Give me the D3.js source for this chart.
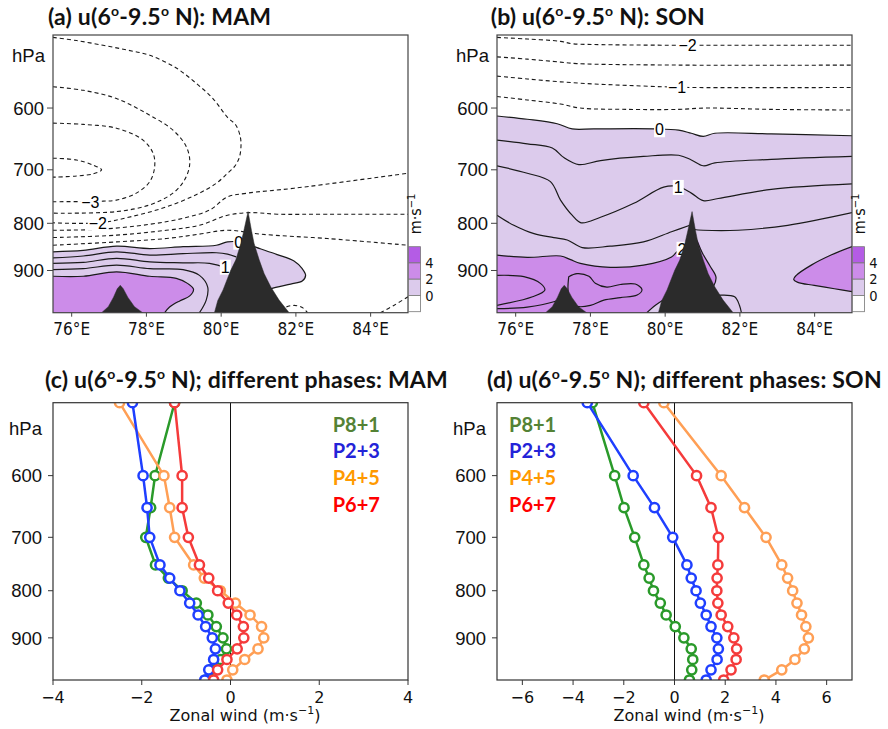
<!DOCTYPE html>
<html><head><meta charset="utf-8">
<script src="https://cdn.jsdelivr.net/npm/d3@7"></script>
<style>body{margin:0;background:#fff}svg{display:block}</style>
</head><body>
<svg id="c" width="888" height="729"></svg>
<script>
// ---------------- DATA ----------------
// Profile panels (c),(d): pressure levels (hPa)
const levels = [500,600,650,700,750,775,800,825,850,875,900,925,950,975,1000];
const phaseNames = ["P8+1","P2+3","P4+5","P6+7"];
// MAM zonal wind (m/s)
const mamP81 = [-1.26,-1.70,-1.80,-1.91,-1.69,-1.40,-1.09,-0.77,-0.51,-0.32,-0.17,-0.09,-0.22,-0.45,-0.56];
const mamP23 = [-2.21,-1.97,-1.88,-1.82,-1.59,-1.37,-1.14,-0.92,-0.73,-0.56,-0.41,-0.34,-0.38,-0.49,-0.58];
const mamP45 = [-2.50,-1.50,-1.37,-1.26,-0.83,-0.59,-0.23,0.11,0.44,0.70,0.75,0.62,0.32,0.05,-0.08];
const mamP67 = [-1.26,-1.09,-1.09,-0.95,-0.70,-0.49,-0.29,-0.05,0.14,0.29,0.30,0.15,-0.08,-0.29,-0.38];
// SON zonal wind (m/s)
const sonP81 = [-3.24,-2.36,-1.99,-1.57,-1.21,-1.00,-0.83,-0.56,-0.33,0.03,0.37,0.66,0.72,0.68,0.59];
const sonP23 = [-3.44,-1.63,-0.79,-0.07,0.49,0.66,0.85,1.02,1.25,1.44,1.67,1.73,1.68,1.44,1.25];
const sonP45 = [-0.42,1.84,2.76,3.61,4.23,4.46,4.66,4.83,5.01,5.18,5.28,5.12,4.75,4.23,3.54];
const sonP67 = [-1.21,0.87,1.44,1.73,1.71,1.68,1.67,1.71,1.84,2.10,2.34,2.45,2.43,2.23,1.94];
const mamTicksX = [-4,-2,0,2,4];
const sonTicksX = [-6,-4,-2,0,2,4,6];
const pTicks = [600,700,800,900];
const lonTicks = [76,78,80,82,84];
const cbLevels = [0,2,4];

// Terrain (lon, surface pressure)
const terrainBig = [[79.82,1000],[79.91,970],[80.05,945],[80.17,918],[80.26,899],[80.39,877],[80.53,841],[80.61,814],[80.72,777],[80.81,814],[80.88,841],[81.02,877],[81.15,907],[81.33,938],[81.55,969],[81.82,1000]];
const terrainSmall = [[76.8,1000],[76.98,985],[77.12,962],[77.22,942],[77.3,934],[77.38,942],[77.5,962],[77.68,985],[77.9,1000]];

// Panel (a) MAM contours (lon, hPa)
const A_m35 = [[75.5,680],[76.13,683],[76.58,692],[76.8,700],[76.58,707],[76.13,711],[75.5,713]];
const A_m3 = [[75.5,623],[76.31,625],[77.2,631],[77.91,650],[78.18,672],[78.22,695],[78.09,721],[77.73,742],[77.2,755],[76.84,757],[75.5,758]];
const A_m25 = [[75.5,569],[76.31,574],[77.2,586],[78.0,608],[78.71,634],[79.07,661],[79.16,689],[79.02,718],[78.71,742],[78.09,764],[77.2,777],[75.5,780]];
const A_m2 = [[75.5,503],[76.13,507],[76.84,513],[77.47,519],[78.09,526],[78.8,543],[79.33,564],[79.78,586],[80.17,614],[80.39,626],[80.51,644],[80.53,661],[80.48,680],[80.35,695],[80.17,706],[79.87,724],[79.33,745],[78.53,768],[77.64,786],[76.75,799],[75.5,799]];
const A_m15 = [[75.5,814],[76.75,812],[78.09,802],[78.98,790],[79.69,774],[80.17,749],[80.7,742],[81.95,733],[85,706]];
const A_m1 = [[75.5,829],[77.2,824],[78.53,814],[79.42,804],[80.17,784],[80.79,779],[81.5,782],[82.84,782],[85,782]];
const A_m05 = [[75.5,845],[77.2,838],[78.53,831],[79.42,822],[80.17,814],[81.06,822],[82.84,831],[85,845]];
const A_m05b = [[81.64,1000],[81.73,987],[81.95,982],[82.17,987],[82.31,1000]];
const A_m05c = [[84.26,1000],[84.62,982],[85,961]];
const A_0 = [[75.5,859],[76.31,856],[77.2,847],[78.09,852],[78.98,848],[79.87,845],[80.17,838],[80.48,838],[80.72,843],[80.88,848],[81.5,865],[81.95,879],[82.17,896],[82.26,911],[82.17,924],[81.86,931],[81.33,942],[81.1,953]];
const A_05 = [[75.5,872],[76.31,868],[77.2,859],[78.09,866],[78.98,863],[79.87,861],[80.17,864],[80.4,870]];
const A_1 = [[75.5,884],[76.31,882],[77.2,873],[78.09,881],[78.98,883],[79.69,884],[80.09,893],[80.3,905]];
const A_15 = [[75.5,898],[76.31,896],[77.2,888],[78.09,896],[78.98,898],[79.42,911],[79.64,938],[79.6,969],[79.42,1000]];
const A_2 = [[75.5,913],[76.31,913],[77.2,903],[78.09,913],[78.8,918],[79.11,930],[79.26,943],[79.16,959],[78.89,971],[78.62,986],[78.49,1000]];

// Panel (b) SON contours (lon, hPa)
const B_m2 = [[75.5,503],[76.31,505],[77.2,508],[77.51,511],[78.09,512],[80.36,513],[81.06,513],[85,513]];
const B_m15 = [[75.5,528],[76.31,531],[77.2,535],[77.64,537],[80.36,539],[85,539]];
const B_m1 = [[75.5,554],[76.31,558],[77.2,562],[78.09,565],[78.98,567],[79.96,569],[80.7,570],[85,570]];
const B_m05 = [[75.5,583],[76.31,588],[77.2,594],[77.73,600],[78.98,602],[80.36,602],[81.06,600],[82.84,602],[85,603]];
const B_0 = [[75.5,612],[76.31,617],[77.11,624],[77.51,632],[78.09,632],[79.69,632],[80.36,634],[80.7,639],[81.02,644],[81.33,639],[82.84,640],[85,643]];
const B_05 = [[75.5,650],[76.31,656],[76.98,663],[77.29,679],[77.69,691],[78.27,684],[79.42,677],[80.36,675],[80.7,683],[81.02,693],[81.33,688],[82.84,682],[85,677]];
const B_1 = [[75.5,693],[76.31,706],[76.93,721],[77.2,755],[77.51,784],[77.75,799],[78.27,788],[79.16,761],[79.96,731],[80.35,730],[80.7,742],[81.02,756],[81.42,752],[82.84,735],[85,725]];
const B_15a = [[75.5,784],[75.95,804],[76.49,821],[77.02,829],[77.38,834],[77.78,850],[78.53,847],[79.42,838],[80.17,817],[80.7,803]];
const B_15b = [[80.72,812],[81.02,814],[81.95,814],[83.28,804],[85,779]];
const B_15c = [[81.1,961],[81.5,957],[81.86,961],[81.99,982],[82.04,1000]];
const B_2a = [[75.5,866],[76.31,871],[77.2,868],[77.47,876],[77.73,884],[78.53,893],[79.42,888],[80.17,870],[80.35,856],[80.57,847]];
const B_2bulge = [[80.85,835],[81.0,862],[81.2,890],[81.36,915],[81.3,935],[81.2,945]];
const B_2right = [[85,848],[84.44,866],[83.91,888],[83.51,911],[83.44,920],[83.55,927],[83.99,934],[84.53,942],[85,949]];
const B_2patch = [[79.51,1000],[79.73,982],[79.96,968],[80.18,957]];
const B_25a = [[75.5,911],[76.22,914],[76.67,930],[76.78,945],[76.45,961],[75.5,982]];
const B_25b = [[77.42,914],[77.64,907],[77.96,913],[78.13,929],[78.44,938],[78.8,932],[79.2,931],[79.38,944],[79.25,957],[78.8,963],[78.36,969],[78.0,982],[77.64,984],[77.45,969],[77.4,942],[77.42,914]];
const B_25c = [[75.5,990],[76.31,986],[77.02,973],[77.15,968]];

// ---------------- STYLE ----------------
const cLight = "#dccbec", cMed = "#cc8ce9", cDark = "#b45ce5", cTerrain = "#2b2b2b";
const cbColors = ["#ffffff", cLight, cMed, cDark];
const lineColors = {"P8+1":"#2a9a2a","P2+3":"#1f3fff","P4+5":"#ff9f55","P6+7":"#f53b3b"};
const legendColors = {"P8+1":"#548235","P2+3":"#2323d8","P4+5":"#ff9900","P6+7":"#ff0000"};
const fTitle = "Lato, 'Open Sans', sans-serif";
const fLab = "'Liberation Sans', Arial, sans-serif";
const fNarrow = "'Liberation Sans Narrow', 'DejaVu Sans Condensed', 'Liberation Sans', sans-serif";
const fMpl = "'DejaVu Sans', sans-serif";

const svg = d3.select("#c");
const TOP = 35, BOT = 312.7;
const yTop = d3.scaleLog().domain([500,1000]).range([TOP,BOT]);
const yBot = d3.scaleLog().domain([500,1000]).range([402.7,680]);

function title(x, y, letter, rest) {
  const t = svg.append("text").attr("x",x).attr("y",y).attr("font-family",fTitle)
    .attr("font-weight","bold").attr("font-size",23).attr("letter-spacing",0.2).attr("fill","#111");
  t.append("tspan").text(letter + " u(6");
  t.append("tspan").attr("font-size",14).attr("dy",-9).text("o");
  t.append("tspan").attr("dy",9).text("-9.5");
  t.append("tspan").attr("font-size",14).attr("dy",-9).text("o");
  t.append("tspan").attr("dy",9).text(" N)" + rest);
}

// ---------------- CONTOUR PANELS ----------------
function contourPanel(cfg) {
  const x = d3.scaleLinear().domain([75.5,85]).range([cfg.x0, cfg.x0+355]);
  const y = yTop;
  const lg = d3.line().x(d=>x(d[0])).y(d=>y(d[1])).curve(d3.curveCatmullRom.alpha(0.5));
  const ll = d3.line().x(d=>x(d[0])).y(d=>y(d[1]));
  const ext = pts => pts.map(p=>`L${x(p[0])},${y(p[1])}`).join("");
  const cid = "clip" + cfg.id;
  svg.append("clipPath").attr("id",cid).append("rect")
    .attr("x",x(75.5)).attr("y",TOP).attr("width",355).attr("height",BOT-TOP);
  const g = svg.append("g").attr("clip-path",`url(#${cid})`);
  cfg.fills.forEach(f => {
    g.append("path").attr("d", lg(f.pts) + ext(f.close) + "Z").attr("fill", f.color).attr("stroke","none");
  });
  cfg.lines.forEach(l => {
    g.append("path").attr("d", lg(l.pts)).attr("fill","none").attr("stroke","#1a1a1a")
      .attr("stroke-width", l.neg ? 1.1 : 1.2).attr("stroke-dasharray", l.neg ? "4,3" : null);
  });
  cfg.labels.forEach(lb => {
    const t = g.append("text").attr("x",x(lb.lon)).attr("y",y(lb.p)).attr("dy","0.36em")
      .attr("text-anchor","middle").attr("font-family",fLab).attr("font-size",16).text(lb.text);
    const bb = t.node().getBBox();
    g.insert("rect", () => t.node()).attr("x",bb.x-1).attr("y",bb.y+1).attr("width",bb.width+2)
      .attr("height",bb.height-2).attr("fill","#fff");
  });
  [terrainSmall, terrainBig].forEach(tr => {
    g.append("path").attr("d", ll(tr) + "Z").attr("fill", cTerrain).attr("stroke", cTerrain).attr("stroke-width",0.5);
  });
  // frame
  svg.append("rect").attr("x",x(75.5)).attr("y",TOP).attr("width",355).attr("height",BOT-TOP)
    .attr("fill","none").attr("stroke","#444").attr("stroke-width",1.2);
  // ticks
  pTicks.forEach(p => {
    svg.append("line").attr("x1",x(75.5)-6).attr("x2",x(75.5)).attr("y1",y(p)).attr("y2",y(p)).attr("stroke","#444");
    svg.append("text").attr("x",x(75.5)-9).attr("y",y(p)).attr("dy","0.36em").attr("text-anchor","end")
      .attr("font-family",fLab).attr("font-size",18.5).attr("fill","#111").text(p);
  });
  lonTicks.forEach(l => {
    svg.append("line").attr("x1",x(l)).attr("x2",x(l)).attr("y1",BOT).attr("y2",BOT+4).attr("stroke","#444");
    svg.append("text").attr("x",x(l)).attr("y",335).attr("text-anchor","middle")
      .attr("font-family",fNarrow).attr("font-size",17).attr("fill","#111").text(l + "°E");
  });
  svg.append("text").attr("x",cfg.x0-8).attr("y",61.5).attr("text-anchor","end")
    .attr("font-family",fLab).attr("font-size",18.5).attr("fill","#111").text("hPa");
  // colorbar
  const cbx = x(85)+0.5, cbw = 12, cbTop = 246.7, cbH = 16.25;
  cbColors.slice().reverse().forEach((c,i) => {
    svg.append("rect").attr("x",cbx).attr("y",cbTop+i*cbH).attr("width",cbw).attr("height",cbH)
      .attr("fill",c).attr("stroke","#777").attr("stroke-width",0.8);
  });
  cbLevels.slice().reverse().forEach((v,i) => {
    svg.append("text").attr("x",cbx+cbw+9).attr("y",cbTop+(i+1)*cbH).attr("dy","0.36em")
      .attr("text-anchor","middle").attr("font-family",fNarrow).attr("font-size",14.5).attr("fill","#111").text(v);
  });
  const u = svg.append("text").attr("transform",`translate(${cbx+cbw/2+6},214) rotate(-90)`)
    .attr("text-anchor","middle").attr("font-family",fNarrow).attr("font-size",16).attr("fill","#111");
  u.append("tspan").text("m·s");
  u.append("tspan").attr("font-size",11).attr("dy",-6).text("−1");
}

contourPanel({
  id:"a", x0:53,
  fills:[
    {pts:A_0, close:[[80.8,1000],[75.5,1000]], color:cLight},
    {pts:A_2, close:[[75.5,1000]], color:cMed}
  ],
  lines:[
    {pts:A_m35,neg:true},{pts:A_m3,neg:true},{pts:A_m25,neg:true},{pts:A_m2,neg:true},
    {pts:A_m15,neg:true},{pts:A_m1,neg:true},{pts:A_m05,neg:true},{pts:A_m05b,neg:true},{pts:A_m05c,neg:true},
    {pts:A_0},{pts:A_05},{pts:A_1},{pts:A_15},{pts:A_2}
  ],
  labels:[
    {lon:76.5,p:759,text:"−3"},{lon:76.7,p:799,text:"−2"},
    {lon:80.47,p:838,text:"0"},{lon:80.11,p:892,text:"1"}
  ]
});

contourPanel({
  id:"b", x0:497,
  fills:[
    {pts:B_0, close:[[85,1000],[75.5,1000]], color:cLight},
    {pts:B_2a.concat(B_2bulge), close:[[80.8,1000],[75.5,1000]], color:cMed},
    {pts:B_2right, close:[], color:cMed},
    {pts:B_2patch, close:[[80.4,985],[80.3,1000]], color:cLight}
  ],
  lines:[
    {pts:B_m2,neg:true},{pts:B_m15,neg:true},{pts:B_m1,neg:true},{pts:B_m05,neg:true},
    {pts:B_0},{pts:B_05},{pts:B_1},{pts:B_15a},{pts:B_15b},{pts:B_15c},
    {pts:B_2a},{pts:B_2bulge},{pts:B_2right},{pts:B_2patch},
    {pts:B_25a},{pts:B_25b},{pts:B_25c}
  ],
  labels:[
    {lon:80.6,p:513,text:"−2"},{lon:80.32,p:570,text:"−1"},
    {lon:79.85,p:633,text:"0"},{lon:80.35,p:731,text:"1"},{lon:80.45,p:853,text:"2"}
  ]
});

title(48, 25, "(a)", ": MAM");
title(490.7, 25, "(b)", ": SON");

// ---------------- PROFILE PANELS ----------------
function profilePanel(cfg) {
  const x = d3.scaleLinear().domain(cfg.domain).range([cfg.x0, cfg.x0+355]);
  const y = yBot;
  const cid = "clip" + cfg.id;
  svg.append("clipPath").attr("id",cid).append("rect")
    .attr("x",cfg.x0).attr("y",402.7).attr("width",355).attr("height",277.3);
  const g = svg.append("g").attr("clip-path",`url(#${cid})`);
  g.append("line").attr("x1",x(0)).attr("x2",x(0)).attr("y1",402.7).attr("y2",680)
    .attr("stroke","#111").attr("stroke-width",1);
  const order = ["P8+1","P4+5","P2+3","P6+7"];
  order.forEach(name => {
    const vals = cfg.series[name];
    const pts = levels.map((p,i)=>[vals[i],p]);
    g.append("path").attr("d", d3.line().x(d=>x(d[0])).y(d=>y(d[1]))(pts))
      .attr("fill","none").attr("stroke",lineColors[name]).attr("stroke-width",2.5);
    g.selectAll(null).data(pts).enter().append("circle")
      .attr("cx",d=>x(d[0])).attr("cy",d=>y(d[1])).attr("r",4.6)
      .attr("fill","#fff").attr("stroke",lineColors[name]).attr("stroke-width",2.5);
  });
  svg.append("rect").attr("x",cfg.x0).attr("y",402.7).attr("width",355).attr("height",277.3)
    .attr("fill","none").attr("stroke","#333").attr("stroke-width",1.2);
  cfg.ticks.forEach(t => {
    svg.append("line").attr("x1",x(t)).attr("x2",x(t)).attr("y1",680).attr("y2",685).attr("stroke","#333");
    svg.append("text").attr("x",x(t)).attr("y",703).attr("text-anchor","middle")
      .attr("font-family",fMpl).attr("font-size",16).attr("fill","#111").text(t<0 ? "−"+Math.abs(t) : t);
  });
  pTicks.forEach(p => {
    svg.append("line").attr("x1",cfg.x0-5).attr("x2",cfg.x0).attr("y1",y(p)).attr("y2",y(p)).attr("stroke","#333");
    svg.append("text").attr("x",cfg.x0-11).attr("y",y(p)).attr("dy","0.36em").attr("text-anchor","end")
      .attr("font-family",fLab).attr("font-size",18.5).attr("fill","#111").text(p);
  });
  svg.append("text").attr("x",cfg.x0-11).attr("y",435).attr("text-anchor","end")
    .attr("font-family",fLab).attr("font-size",18.5).attr("fill","#111").text("hPa");
  const xl = svg.append("text").attr("x",cfg.x0+192).attr("y",721).attr("text-anchor","middle")
    .attr("font-family",fMpl).attr("font-size",16).attr("fill","#111");
  xl.append("tspan").text("Zonal wind (m·s");
  xl.append("tspan").attr("font-size",11).attr("dy",-7).text("−1");
  xl.append("tspan").attr("dy",7).text(")");
  phaseNames.forEach((n,i) => {
    svg.append("text").attr("x",cfg.legX).attr("y",431.7+i*26.7).attr("font-family",fTitle)
      .attr("font-weight","bold").attr("font-size",20).attr("fill",legendColors[n]).text(n);
  });
}

profilePanel({id:"c", x0:53, domain:[-4,4], ticks:mamTicksX, legX:332.7,
  series:{"P8+1":mamP81,"P2+3":mamP23,"P4+5":mamP45,"P6+7":mamP67}});
profilePanel({id:"d", x0:497, domain:[-7,7], ticks:sonTicksX, legX:509,
  series:{"P8+1":sonP81,"P2+3":sonP23,"P4+5":sonP45,"P6+7":sonP67}});

title(45, 388, "(c)", "; different phases: MAM");
title(487, 388, "(d)", "; different phases: SON");
</script>
</body></html>
